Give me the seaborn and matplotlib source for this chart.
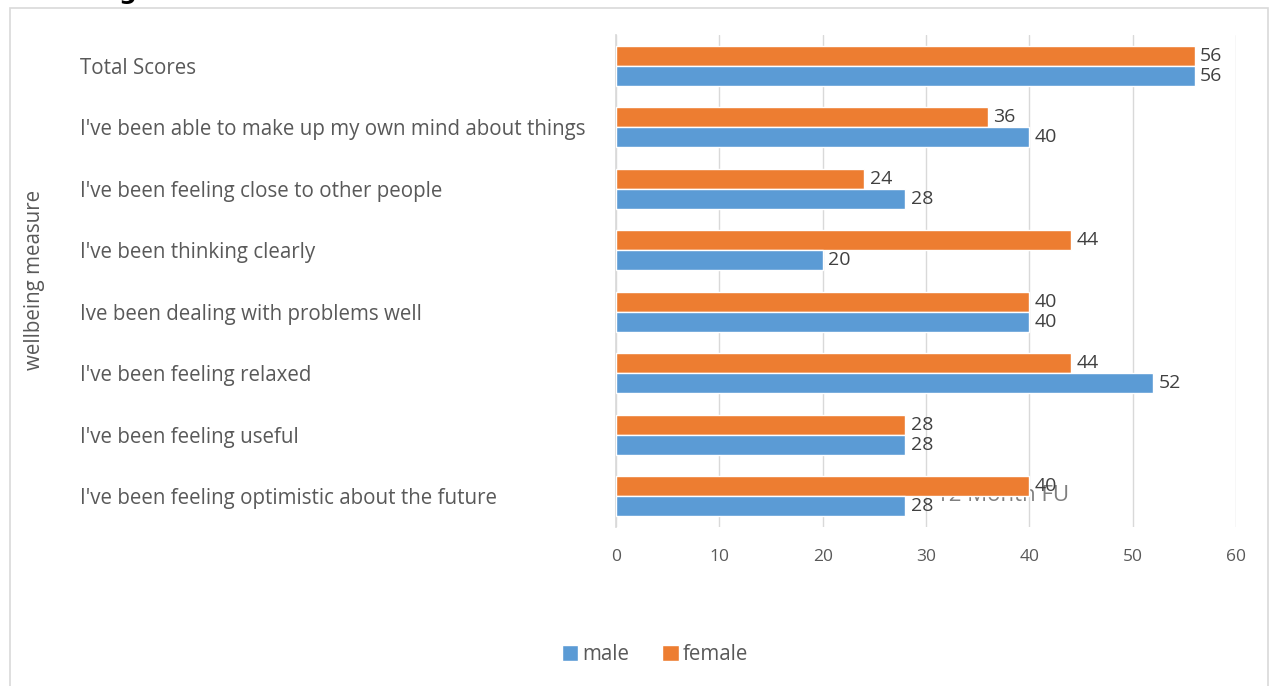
import matplotlib
matplotlib.use("Agg")
import matplotlib.pyplot as plt
import seaborn as sns
import pandas as pd
from matplotlib.patches import Rectangle, Patch

categories = [
    "Total Scores",
    "I've been able to make up my own mind about things",
    "I've been feeling close to other people",
    "I've been thinking clearly",
    "Ive been dealing with problems well",
    "I've been feeling relaxed",
    "I've been feeling useful",
    "I've been feeling optimistic about the future",
]
male = [56, 40, 28, 20, 40, 52, 28, 28]
female = [56, 36, 24, 44, 40, 44, 28, 40]
series = ["male", "female"]
xticks = [0, 10, 20, 30, 40, 50, 60]

BLUE = "#5B9BD5"
ORANGE = "#ED7D31"
TXT = "#595959"

df = pd.DataFrame({
    "measure": categories * 2,
    "value": male + female,
    "sex": ["male"] * len(categories) + ["female"] * len(categories),
})

sns.set_theme(style="white")
plt.rcParams["font.family"] = ["Open Sans", "DejaVu Sans"]

W, H = 1271, 686
fig = plt.figure(figsize=(W / 100, H / 100), dpi=100)
ax = fig.add_axes([616 / W, 1 - 527 / H, (1236 - 616) / W, (527 - 35) / H])

sns.barplot(data=df, y="measure", x="value", hue="sex", order=categories,
            hue_order=["female", "male"], palette={"male": BLUE, "female": ORANGE},
            orient="h", width=0.65, ax=ax, legend=False, zorder=3,
            saturation=1)

for cont in ax.containers:
    ax.bar_label(cont, padding=4, fontsize=14, color="#404040")

ax.set_xlim(0, 60)
ax.set_xticks(xticks)
ax.set_xticklabels([str(t) for t in xticks], fontsize=12.5, color=TXT)
ax.tick_params(axis="x", length=0, pad=16)
ax.grid(axis="x", color="#d9d9d9", linewidth=1, zorder=0)
ax.set_axisbelow(True)
for s in ["top", "right", "bottom"]:
    ax.spines[s].set_visible(False)
ax.spines["left"].set_color("#d9d9d9")

ax.set_ylabel("")
ax.set_xlabel("")
pad_pt = (616 - 80) * 72 / 100
ax.tick_params(axis="y", length=0, pad=pad_pt)
for lab in ax.get_yticklabels():
    lab.set_horizontalalignment("left")
    lab.set_fontsize(14.8)
    lab.set_color(TXT)

# ghost text behind bottom bars
ax.text(37.4, 6.98, "12 Month FU", fontsize=16, color="#7f7f7f",
        ha="center", va="center", zorder=1)

fig.text(35 / W, 1 - 280 / H, "wellbeing measure", rotation=90,
         ha="center", va="center", fontsize=14.8, color=TXT)

handles = [Patch(facecolor=BLUE, label="male"), Patch(facecolor=ORANGE, label="female")]
fig.legend(handles=handles, loc="center", bbox_to_anchor=(655 / W, 1 - 655 / H),
           ncol=2, frameon=False, fontsize=14.8, handlelength=0.8, handleheight=0.8,
           handletextpad=0.2, columnspacing=1.6, labelcolor=TXT)

fig.patches.append(Rectangle((10 / W, -0.01), (1268 - 10) / W, 1 - 8 / H + 0.01,
                             transform=fig.transFigure, fill=False,
                             edgecolor="#d9d9d9", linewidth=1.2))
fig.text(128 / W, 1 + 1 / H, "g", ha="center", va="baseline", fontsize=18,
         fontweight="bold", color="black", family="DejaVu Sans")

fig.savefig("out.png", dpi=100, facecolor="white")
